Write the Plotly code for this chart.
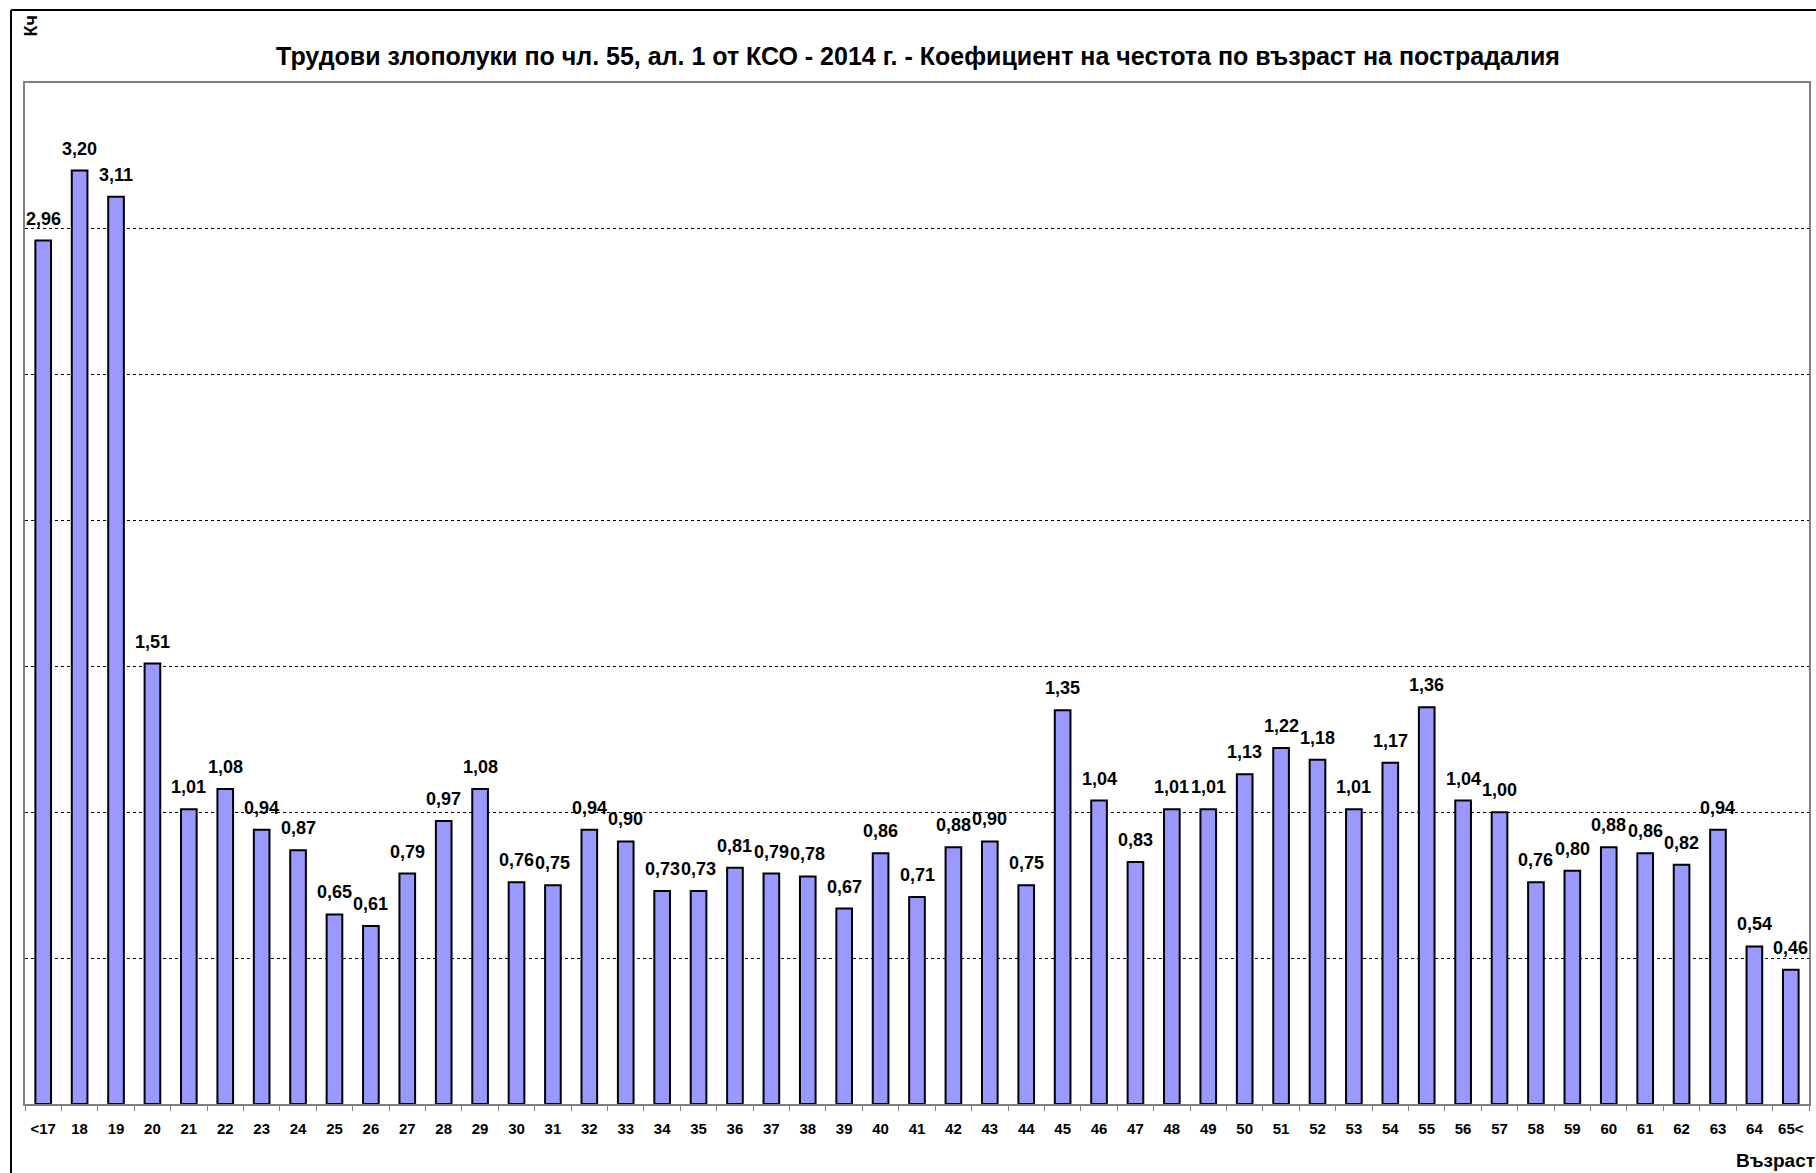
import plotly.graph_objects as go

categories = ["<17"] + [str(a) for a in range(18, 65)] + ["65<"]
values = [2.96, 3.20, 3.11, 1.51, 1.01, 1.08, 0.94, 0.87, 0.65, 0.61,
          0.79, 0.97, 1.08, 0.76, 0.75, 0.94, 0.90, 0.73, 0.73, 0.81,
          0.79, 0.78, 0.67, 0.86, 0.71, 0.88, 0.90, 0.75, 1.35, 1.04,
          0.83, 1.01, 1.01, 1.13, 1.22, 1.18, 1.01, 1.17, 1.36, 1.04,
          1.00, 0.76, 0.80, 0.88, 0.86, 0.82, 0.94, 0.54, 0.46]
labels = [f"{v:.2f}".replace(".", ",") for v in values]

title = "Трудови злополуки по чл. 55, ал. 1 от КСО - 2014 г. - Коефициент на честота по възраст на пострадалия"
y_title = "Кч"
x_title = "Възраст"

W, H = 1816, 1173
L, R, T, B = 25, 1811, 83, 1104
pw, ph = R - L, B - T

def px(x):
    return (x - L) / pw

def py(y):
    return (B - y) / ph

font = "Liberation Sans, Arial, sans-serif"

fig = go.Figure(go.Bar(
    x=categories, y=values,
    marker=dict(color="#9999FF", line=dict(color="black", width=2)),
    width=0.43,
))

# category axis: annotation x given as category index
for i, (v, t) in enumerate(zip(values, labels)):
    fig.add_annotation(x=i, y=v, text=f"<b>{t}</b>", showarrow=False,
                       xanchor="center", yanchor="bottom", yshift=10,
                       font=dict(family=font, size=18, color="black"))

fig.update_layout(
    width=W, height=H,
    margin=dict(l=L, r=W - R, t=T, b=H - B),
    plot_bgcolor="white", paper_bgcolor="white",
    showlegend=False,
    title=dict(text=f"<b>{title}</b>", x=(L + R) / 2 / W, xanchor="center",
               y=1 - 56 / H, yanchor="middle",
               font=dict(family=font, size=25, color="black")),
    xaxis=dict(type="category", range=[-0.5, len(categories) - 0.5],
               showline=True, linecolor="#808080", linewidth=2,
               mirror=True, ticks="outside", tickcolor="#808080", ticklen=5,
               tickson="boundaries", showgrid=False, ticklabelstandoff=10,
               tickangle=0,
               tickfont=dict(family=font, size=15, color="black", weight="bold")),
    yaxis=dict(range=[0, 3.5], dtick=0.5, showticklabels=False, showline=True,
               linecolor="#808080", linewidth=2, mirror=True,
               showgrid=True, gridcolor="black", gridwidth=1, griddash="dot",
               zeroline=False),
)

fig.add_shape(type="line", xref="paper", yref="paper",
              x0=px(11), x1=px(11), y0=py(10), y1=py(H + 10),
              line=dict(color="black", width=2))
fig.add_shape(type="line", xref="paper", yref="paper",
              x0=px(11), x1=px(W + 10), y0=py(10), y1=py(10),
              line=dict(color="black", width=2))

fig.add_annotation(text=f"<b>{y_title}</b>", xref="paper", yref="paper",
                   x=px(31.5), y=py(26), textangle=-90, showarrow=False,
                   xanchor="center", yanchor="middle",
                   font=dict(family=font, size=18, color="black"))
fig.add_annotation(text=f"<b>{x_title}</b>", xref="paper", yref="paper",
                   x=px(1819), y=py(1160), showarrow=False,
                   xanchor="right", yanchor="middle",
                   font=dict(family=font, size=19, color="black"))

fig.write_html("out.html", config={"displayModeBar": False},
               post_script="document.body.style.margin='0';document.body.style.overflow='hidden';")
